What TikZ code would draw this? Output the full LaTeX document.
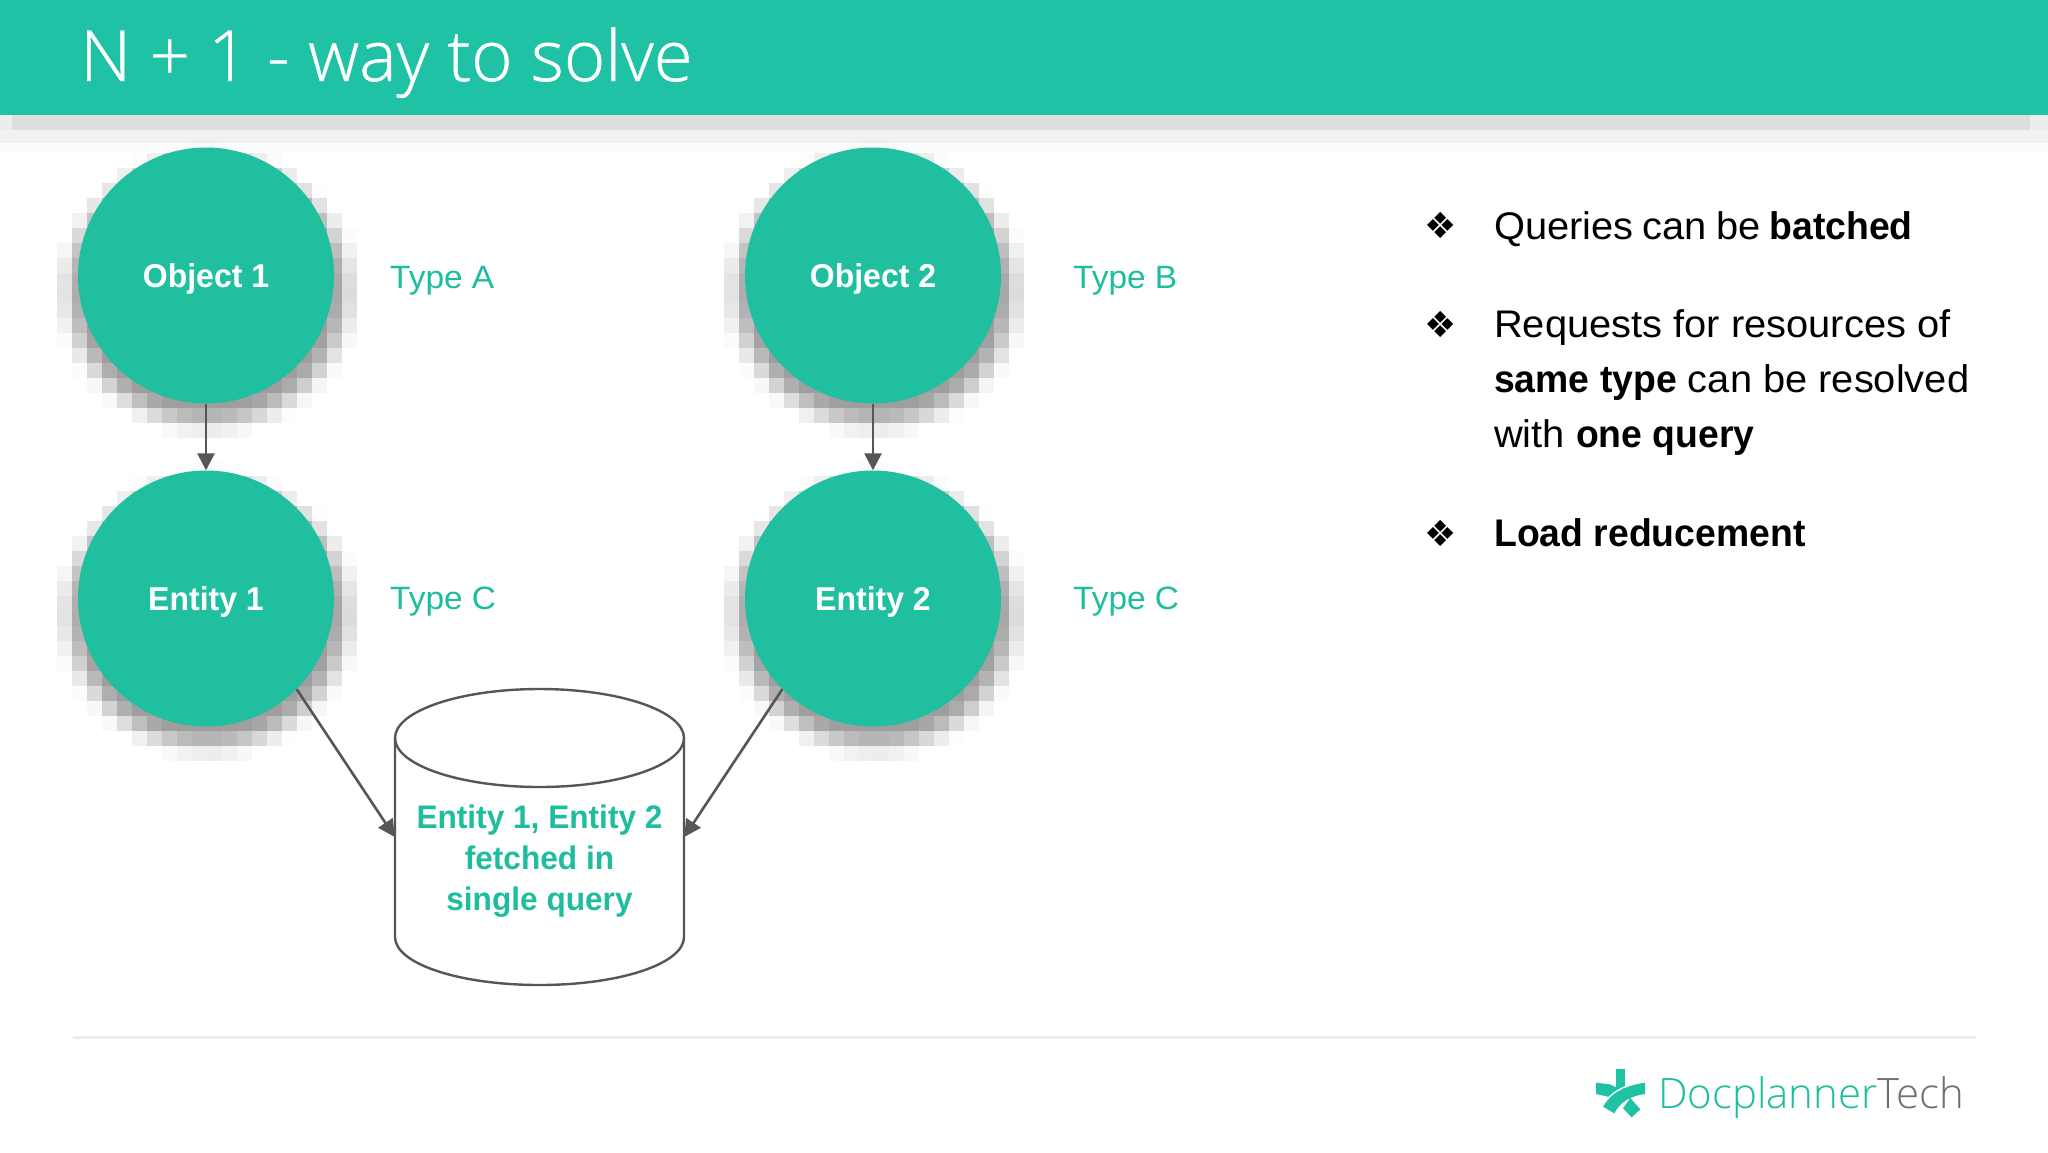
\documentclass[tikz,border=0pt]{standalone}
\usepackage{fontspec}
\setmainfont{Liberation Sans}[FakeStretch=1.035,BoldFeatures={FakeStretch=0.97}]
\newfontfamily\titlefont{Open Sans Light}[FakeBold=0.6]
\newfontfamily\logofont{Open Sans Light}
\newfontfamily\symfont{DejaVu Sans}
\usetikzlibrary{arrows.meta}
\definecolor{headteal}{HTML}{1FC2A5}
\definecolor{circteal}{HTML}{1FBFA0}
\definecolor{textteal}{HTML}{1DBD9E}
\definecolor{wire}{HTML}{565656}
\definecolor{techgray}{HTML}{6F6F72}
\tikzset{
  ball/.style={circle,fill=circteal,minimum size=256pt,inner sep=0pt,text=white,font=\fontsize{33}{38}\selectfont\bfseries},
  typelabel/.style={anchor=west,inner sep=0pt,text=textteal,font=\fontsize{32.3}{38}\selectfont},
  arrowline/.style={draw=wire,line width=2.6pt,-{Triangle[length=17pt,width=17pt]}},
  bullettext/.style={anchor=base west,inner sep=0pt,text=black,font=\fontsize{38.5}{55}\selectfont},
  bulletmark/.style={inner sep=0pt,text=black,font=\symfont\fontsize{36}{40}\selectfont},
}
\newcommand{\softblocks}[2]{%
  \foreach \i in {-1,...,20}{%
    \foreach \j in {-1,...,20}{%
      \pgfmathsetmacro\dd{veclen(\i*15-134+7.5-2,1.05*(\j*15-123+7.5-15))}%
      \pgfmathsetmacro\tt{max(0,min(1,(157-\dd)/38))}%
      \pgfmathsetmacro\aa{0.38*\tt*\tt*(3-2*\tt)}%
      \ifdim\aa pt>0.004pt
        \fill[black,fill opacity=\aa] ({#1-134+\i*15},{#2-123+\j*15}) rectangle +(15,15);
      \fi
    }%
  }%
}
\newcommand{\ballabel}[1]{\raisebox{-11.5pt}[0pt][0pt]{#1}}
\begin{document}
\begin{tikzpicture}[x=1pt,y=-1pt]
\useasboundingbox (0,0) rectangle (2048,1152);
\fill[white] (0,0) rectangle (2048,1152);
% header shadow
\fill[black!13] (12,115) rectangle (2030,130);
\fill[black!7] (0,115) rectangle (12,130);
\fill[black!7] (2030,115) rectangle (2048,130);
\fill[black!5] (0,130) rectangle (2048,143);
\fill[black!1] (0,143) rectangle (2048,152);
\fill[headteal] (0,0) rectangle (2048,115);
\node[anchor=base west,inner sep=0pt,text=white,font=\titlefont\fontsize{70.7}{80}\selectfont] (title) at (80,81) {N + 1 - way to solve};
% soft shadows
\softblocks{206}{275.5}
\softblocks{873}{275.5}
\softblocks{206}{598.5}
\softblocks{873}{598.5}
% circles
\node[ball] (o1) at (206,275.5) {\ballabel{Object 1}};
\node[ball] (o2) at (873,275.5) {\ballabel{Object 2}};
\node[ball] (e1) at (206,598.5) {\ballabel{Entity 1}};
\node[ball] (e2) at (873,598.5) {\ballabel{Entity 2}};
\node[typelabel] (ta) at (390,281) {Type A};
\node[typelabel] (tb) at (1073,281) {Type B};
\node[typelabel] (tc1) at (390,602) {Type C};
\node[typelabel] (tc2) at (1073,602) {Type C};
% cylinder
\node[minimum width=289pt,minimum height=296pt,inner sep=0pt,draw=none] (db) at (539.5,837) {};
\draw[wire,line width=2.4pt,fill=white] (395,738) .. controls (395,711) and (460,689) .. (539.5,689) .. controls (619,689) and (684,711) .. (684,738) -- (684,937) .. controls (684,964) and (619,985) .. (539.5,985) .. controls (460,985) and (395,964) .. (395,937) -- cycle;
\draw[wire,line width=2.4pt] (395,738) .. controls (395,765) and (460,787) .. (539.5,787) .. controls (619,787) and (684,765) .. (684,738);
\node[anchor=base,inner sep=0pt,text=textteal,font=\fontsize{32.6}{41}\selectfont\bfseries,align=center] (dbtext) at (539.5,910) {Entity 1, Entity 2\\fetched in\\single query};
% connectors
\draw[arrowline] (o1) -- (e1);
\draw[arrowline] (o2) -- (e2);
\draw[arrowline] (e1.-45) -- (db.west);
\draw[arrowline] (e2.225) -- (db.east);
% bullets
\node[bulletmark] (b1) at (1441,225) {❖};
\node[bulletmark] (b2) at (1441,324) {❖};
\node[bulletmark] (b3) at (1441,533) {❖};
\node[bullettext] (q) at (1494,239) {Queries\hspace{-2pt} can\hspace{-2pt} be\hspace{-2pt} \textbf{batched}};
\node[bullettext] (r1) at (1494,337) {Requests for resources of};
\node[bullettext] (r2) at (1494,392) {\textbf{same type} can be resolved};
\node[bullettext] (r3) at (1494,447) {with \textbf{one query}};
\node[bullettext] (l) at (1494,546) {\textbf{Load reducement}};
% footer
\draw[black!7,line width=3pt] (73,1037) -- (1976,1037);
\begin{scope}[shift={(1585,1060)},x=0.3333pt,y=-0.3333pt]
\fill[headteal] (93,28) rectangle (120,88);
\fill[headteal] (33,68) -- (75,73) -- (106,88) -- (78,112) -- (33,102) -- cycle;
\fill[headteal] (180,68) .. controls (120,76) and (76,100) .. (54,140) -- (88,160) .. controls (105,125) and (140,107) .. (180,102) -- cycle;
\draw[white,line width=1.3pt] (172,66) .. controls (120,74) and (74,98) .. (52,138);
\fill[headteal] (136,114) -- (166,148) -- (140,172) -- (114,145) -- cycle;
\end{scope}
\node[anchor=base west,inner sep=0pt,font=\logofont\fontsize{41.9}{46}\selectfont] (logo) at (1658,1108) {\textcolor{textteal}{Docplanner}\textcolor{techgray}{Tech}};
\end{tikzpicture}
\end{document}
